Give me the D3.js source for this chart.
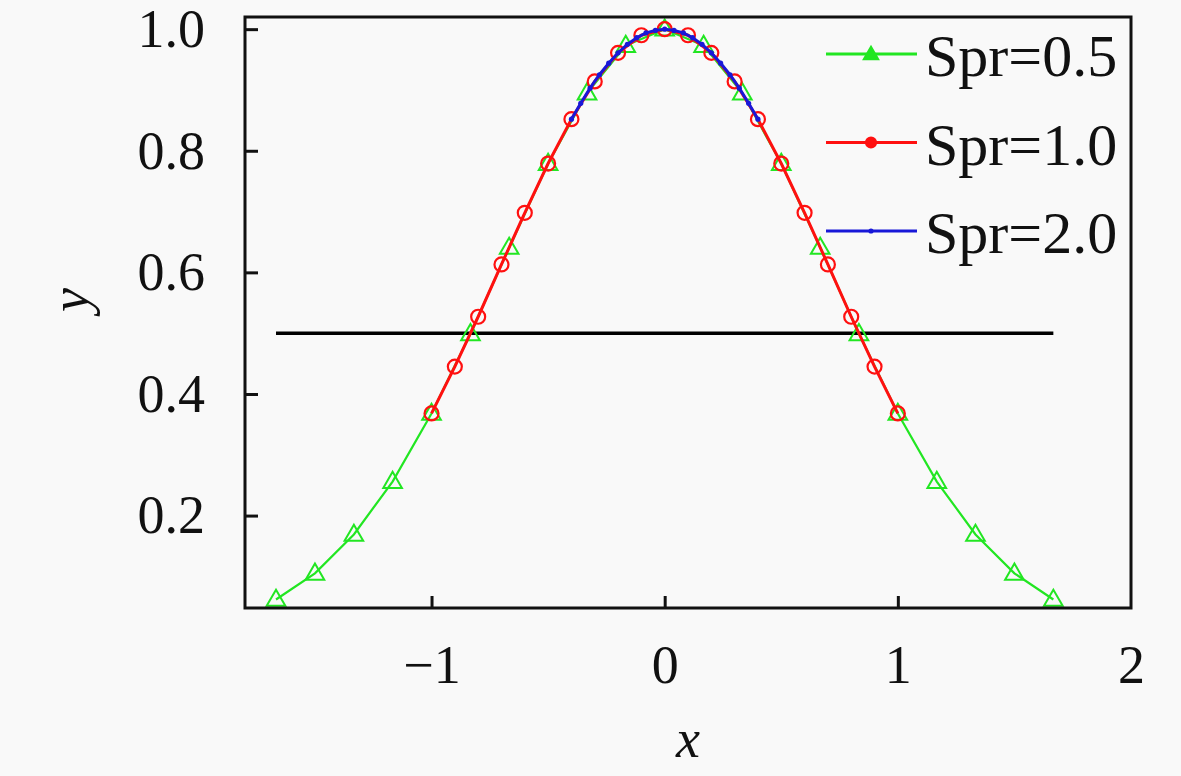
<!DOCTYPE html>
<html>
<head>
<meta charset="utf-8">
<script src="https://cdn.jsdelivr.net/npm/d3@7"></script>
<style>
  body { margin: 0; background: #f9f9f9; }
  svg { display: block; }
  text { font-family: "Liberation Serif", "DejaVu Serif", serif; fill: #111; }
</style>
</head>
<body>
<svg id="chart" width="1181" height="776"></svg>
<script>
// Spr = 0.5
const x05 = [-1.667, -1.5, -1.333, -1.167, -1.0, -0.833, -0.667, -0.5, -0.333, -0.167, 0,
             0.167, 0.333, 0.5, 0.667, 0.833, 1.0, 1.167, 1.333, 1.5, 1.667];
const y05 = [0.062, 0.105, 0.169, 0.256, 0.368, 0.499, 0.641, 0.779, 0.895, 0.973, 1.0,
             0.973, 0.895, 0.779, 0.641, 0.499, 0.368, 0.256, 0.169, 0.105, 0.062];

// Spr = 1.0
const x10 = [-1.0, -0.9, -0.8, -0.7, -0.6, -0.5, -0.4, -0.3, -0.2, -0.1, 0,
             0.1, 0.2, 0.3, 0.4, 0.5, 0.6, 0.7, 0.8, 0.9, 1.0];
const y10 = [0.368, 0.445, 0.527, 0.613, 0.698, 0.779, 0.852, 0.914, 0.961, 0.990, 1.0,
             0.990, 0.961, 0.914, 0.852, 0.779, 0.698, 0.613, 0.527, 0.445, 0.368];

// Spr = 2.0
const x20 = [-0.4, -0.36, -0.32, -0.28, -0.24, -0.2, -0.16, -0.12, -0.08, -0.04, 0,
             0.04, 0.08, 0.12, 0.16, 0.2, 0.24, 0.28, 0.32, 0.36, 0.4];
const y20 = [0.852, 0.878, 0.903, 0.925, 0.944, 0.961, 0.975, 0.986, 0.994, 0.998, 1.0,
             0.998, 0.994, 0.986, 0.975, 0.961, 0.944, 0.925, 0.903, 0.878, 0.852];

// horizontal reference line y = 0.5
const refX = [-1.667, 1.667];
const refY = 0.5;

const xTicks = [-1, 0, 1, 2];
const yTicks = [0.2, 0.4, 0.6, 0.8, 1.0];

const series = [
  { name: "Spr=0.5", xs: x05, ys: y05, color: "#22e622", marker: "triangle", width: 2.2 },
  { name: "Spr=1.0", xs: x10, ys: y10, color: "#ff1010", marker: "circle", width: 3 },
  { name: "Spr=2.0", xs: x20, ys: y20, color: "#1818d8", marker: "dot", width: 3 }
];

const plotLeft = 245, plotRight = 1131, plotTop = 17, plotBottom = 608;

const svg = d3.select("#chart");

const x = d3.scaleLinear().domain([-1.8, 2.0]).range([plotLeft, plotRight]);
const y = d3.scaleLinear().domain([0.048, 1.02]).range([plotBottom, plotTop]);

// reference line
svg.append("line")
  .attr("x1", x(refX[0])).attr("x2", x(refX[1]))
  .attr("y1", y(refY)).attr("y2", y(refY))
  .attr("stroke", "#000").attr("stroke-width", 3.5);

const line = d3.line().x(d => x(d[0])).y(d => y(d[1]));

function drawMarker(g, type, color, cx, cy, filled) {
  const fill = filled ? color : "none";
  if (type === "triangle") {
    g.append("path")
      .attr("d", d3.symbol().type(d3.symbolTriangle).size(filled ? 90 : 150)())
      .attr("transform", `translate(${cx},${cy + 1})`)
      .attr("fill", fill).attr("stroke", color).attr("stroke-width", 2);
  } else if (type === "circle") {
    g.append("circle")
      .attr("cx", cx).attr("cy", cy).attr("r", filled ? 5 : 7)
      .attr("fill", fill).attr("stroke", color).attr("stroke-width", 2.2);
  } else {
    g.append("circle")
      .attr("cx", cx).attr("cy", cy).attr("r", 2.6)
      .attr("fill", color);
  }
}

series.forEach(s => {
  const pts = s.xs.map((v, i) => [v, s.ys[i]]);
  const g = svg.append("g");
  g.append("path")
    .datum(pts)
    .attr("d", line)
    .attr("fill", "none")
    .attr("stroke", s.color)
    .attr("stroke-width", s.width);
  pts.forEach(p => drawMarker(g, s.marker, s.color, x(p[0]), y(p[1]), false));
});

// axes box
svg.append("rect")
  .attr("x", plotLeft).attr("y", plotTop)
  .attr("width", plotRight - plotLeft).attr("height", plotBottom - plotTop)
  .attr("fill", "none").attr("stroke", "#111").attr("stroke-width", 3);

// inward ticks
const xAxis = svg.append("g").attr("transform", `translate(0,${plotBottom})`)
  .call(d3.axisBottom(x).tickValues(xTicks).tickSizeInner(-12).tickSizeOuter(0)
    .tickPadding(26).tickFormat(d => d < 0 ? "\u2212" + Math.abs(d) : d));
xAxis.select(".domain").remove();
xAxis.selectAll(".tick line").attr("stroke", "#111").attr("stroke-width", 3);
xAxis.selectAll(".tick text")
  .attr("font-family", "Liberation Serif").attr("font-size", 54).attr("fill", "#111")
  .attr("dy", "0.9em");
// the right-hand tick sits on the frame
xAxis.selectAll(".tick").filter(d => d === 2).select("line").remove();

const yAxis = svg.append("g").attr("transform", `translate(${plotLeft},0)`)
  .call(d3.axisLeft(y).tickValues(yTicks).tickSizeInner(-13).tickSizeOuter(0)
    .tickPadding(40).tickFormat(d3.format(".1f")));
yAxis.select(".domain").remove();
yAxis.selectAll(".tick line").attr("stroke", "#111").attr("stroke-width", 3);
yAxis.selectAll(".tick text")
  .attr("font-family", "Liberation Serif").attr("font-size", 54).attr("fill", "#111");

// axis titles
svg.append("text")
  .attr("x", 688).attr("y", 757)
  .attr("text-anchor", "middle")
  .attr("font-size", 54).attr("font-style", "italic")
  .text("x");

svg.append("text")
  .attr("transform", "translate(88,300) rotate(-90)")
  .attr("text-anchor", "middle")
  .attr("font-size", 54).attr("font-style", "italic")
  .text("y");

// legend
const legend = svg.append("g");
series.forEach((s, i) => {
  const ly = 54 + i * 88.5;
  legend.append("line")
    .attr("x1", 826).attr("x2", 917).attr("y1", ly).attr("y2", ly)
    .attr("stroke", s.color).attr("stroke-width", 3);
  drawMarker(legend, s.marker, s.color, 871, ly, true);
  legend.append("text")
    .attr("x", 925).attr("y", ly + 22)
    .attr("font-size", 60)
    .text(s.name);
});
</script>
</body>
</html>
